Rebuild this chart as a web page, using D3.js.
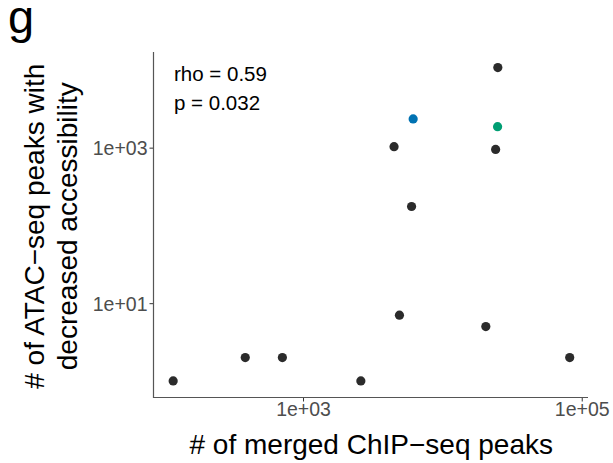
<!DOCTYPE html>
<html>
<head>
<meta charset="utf-8">
<script src="https://cdn.jsdelivr.net/npm/d3@7"></script>
<style>
  html, body { margin: 0; padding: 0; background: #fff; }
  svg { display: block; }
  text { font-family: "Liberation Sans", Arial, Helvetica, sans-serif; }
</style>
</head>
<body>
<div id="chart"></div>
<script>
// Merged ChIP-seq peak counts (x) vs ATAC-seq peaks losing accessibility (y)
const chipPeaks = [117, 385, 711, 2600, 4500, 6170, 6010, 4920, 25000, 24900, 24100, 20500, 82000];
const atacPeaks = [1, 2, 2, 1, 1030, 2340, 175, 7, 10700, 1860, 950, 5, 2];
const pointGroup = ["other", "other", "other", "other", "other", "blue", "other", "other", "other", "green", "other", "other", "other"];
const groupColors = { other: "#2b2b2b", blue: "#0072B2", green: "#009E73" };

const xTicks = [1e3, 1e5];
const yTicks = [1e1, 1e3];
const statLines = ["rho = 0.59", "p = 0.032"];

const W = 613, H = 463;
const panel = { left: 153.5, right: 588, top: 52, bottom: 397.5 };

const svg = d3.select("#chart").append("svg")
  .attr("width", W).attr("height", H);

const x = d3.scaleLog()
  .domain([Math.pow(10, 1.927), Math.pow(10, 5.045)])
  .range([panel.left, panel.right]);
const y = d3.scaleLog()
  .domain([Math.pow(10, -0.213), Math.pow(10, 4.23)])
  .range([panel.bottom, panel.top]);

const fmt = d => {
  const e = Math.round(Math.log10(d));
  return "1e+" + (e < 10 ? "0" : "") + e;
};

// x axis
const xAxis = svg.append("g")
  .attr("transform", `translate(0,${panel.bottom})`)
  .call(d3.axisBottom(x).tickValues(xTicks).tickFormat(fmt).tickSize(4).tickPadding(3));
xAxis.select(".domain").remove();
xAxis.selectAll(".tick line").attr("stroke", "#333").attr("stroke-width", 1);
xAxis.selectAll(".tick text")
  .attr("fill", "#4d4d4d").attr("font-size", 19.5).attr("dy", "0.6em");

// y axis
const yAxis = svg.append("g")
  .attr("transform", `translate(${panel.left},0)`)
  .call(d3.axisLeft(y).tickValues(yTicks).tickFormat(fmt).tickSize(4).tickPadding(2));
yAxis.select(".domain").remove();
yAxis.selectAll(".tick line").attr("stroke", "#333").attr("stroke-width", 1);
yAxis.selectAll(".tick text")
  .attr("fill", "#4d4d4d").attr("font-size", 19.5).attr("dy", "0.35em");

// axis lines
svg.append("line")
  .attr("x1", panel.left).attr("x2", panel.left)
  .attr("y1", panel.top).attr("y2", panel.bottom + 0.5)
  .attr("stroke", "#555").attr("stroke-width", 1.2);
svg.append("line")
  .attr("x1", panel.left - 0.5).attr("x2", panel.right)
  .attr("y1", panel.bottom).attr("y2", panel.bottom)
  .attr("stroke", "#555").attr("stroke-width", 1.2);

// points
const pts = chipPeaks.map((v, i) => ({ x: v, y: atacPeaks[i], g: pointGroup[i] }));
svg.append("g").selectAll("circle")
  .data(pts).join("circle")
  .attr("cx", d => x(d.x))
  .attr("cy", d => y(d.y))
  .attr("r", 4.6)
  .attr("fill", d => groupColors[d.g]);

// correlation annotation
svg.append("g").selectAll("text")
  .data(statLines).join("text")
  .attr("x", 174)
  .attr("y", (d, i) => 81 + i * 29)
  .attr("font-size", 20.5)
  .attr("fill", "#000")
  .text(d => d);

// axis titles
svg.append("text")
  .attr("x", (panel.left + panel.right) / 2 + 0.5)
  .attr("y", 454)
  .attr("text-anchor", "middle")
  .attr("font-size", 28)
  .attr("fill", "#000")
  .text("# of merged ChIP\u2212seq peaks");

const yTitle = svg.append("text")
  .attr("transform", `translate(0,${(panel.top + panel.bottom) / 2 + 1.5}) rotate(-90)`)
  .attr("text-anchor", "middle")
  .attr("font-size", 28)
  .attr("fill", "#000");
yTitle.append("tspan").attr("x", 0).attr("y", 44).text("# of ATAC\u2212seq peaks with");
yTitle.append("tspan").attr("x", 0).attr("y", 76.5).text("decreased accessibility");

// panel tag
svg.append("text")
  .attr("x", 8).attr("y", 33)
  .attr("font-size", 47)
  .attr("fill", "#000")
  .text("g");
</script>
</body>
</html>
